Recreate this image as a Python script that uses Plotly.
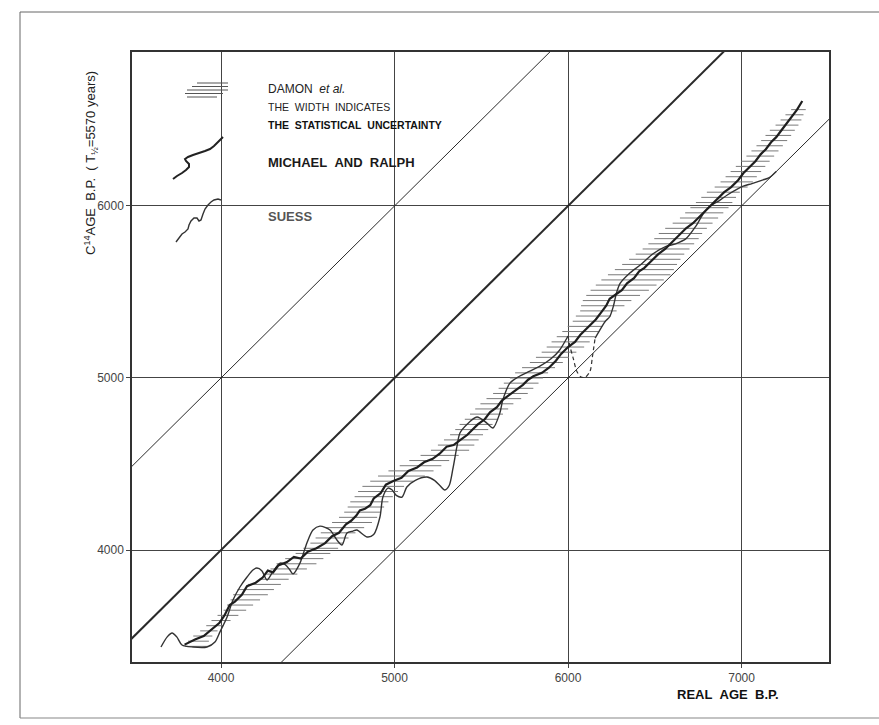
import plotly.graph_objects as go

# ---------------- data ----------------
x_ticks = [4000, 5000, 6000, 7000]
y_ticks = [4000, 5000, 6000]
x_range = [3487, 7504]
y_range = [3349, 6895]

# reference lines  C14 = real + offset
diag_offsets = [-1000, 0, 1000]
diag_widths = [1.0, 2.0, 1.0]

# Damon et al. : C14 age, centre of real-age interval, half width (statistical uncertainty)
damon_c14 = [3440, 3470, 3500, 3530, 3560, 3590, 3620, 3650, 3680, 3710,
             3740, 3770, 3800, 3830, 3860, 3890, 3920, 3950, 3980, 4010,
             4040, 4070, 4100, 4130, 4160, 4190, 4220, 4250, 4280, 4310,
             4340, 4370, 4400, 4430, 4460, 4490, 4520, 4550, 4580, 4610,
             4640, 4670, 4700, 4730, 4760, 4790, 4820, 4850, 4880, 4910,
             4940, 4970, 5000, 5030, 5060, 5090, 5120, 5150, 5180, 5210,
             5240, 5270, 5300, 5330, 5360, 5390, 5420, 5450, 5480, 5510,
             5540, 5570, 5600, 5630, 5660, 5690, 5720, 5750, 5780, 5810,
             5840, 5870, 5900, 5930, 5960, 5990, 6020, 6050, 6080, 6110,
             6140, 6170, 6200, 6230, 6260, 6290, 6320, 6350, 6380, 6410,
             6440, 6470, 6500, 6530, 6560]
damon_real = [3860, 3870, 3895, 3930, 3965, 4000, 4040, 4080, 4110, 4140,
              4170, 4200, 4250, 4305, 4350, 4390, 4435, 4480, 4530, 4575,
              4610, 4640, 4675, 4715, 4755, 4790, 4815, 4835, 4855, 4880,
              4905, 4935, 4985, 5040, 5095, 5150, 5200, 5260, 5320, 5355,
              5385, 5415, 5445, 5470, 5500, 5530, 5560, 5590, 5630, 5668,
              5700, 5730, 5760, 5790, 5830, 5875, 5910, 5948, 5985, 6015,
              6045, 6072, 6098, 6122, 6145, 6175, 6200, 6225, 6260, 6298,
              6335, 6372, 6410, 6440, 6470, 6500, 6530, 6565, 6595, 6625,
              6648, 6680, 6718, 6755, 6785, 6815, 6842, 6868, 6895, 6940,
              6972, 6998, 7025, 7052, 7080, 7108, 7135, 7162, 7188, 7212,
              7235, 7262, 7285, 7305, 7328]
damon_halfwidth = [65, 60, 55, 50, 50, 55, 60, 65, 75, 85,
                   100, 105, 95, 85, 90, 105, 115, 110, 100, 100,
                   95, 95, 100, 110, 115, 110, 105, 105, 110, 110,
                   115, 120, 125, 135, 130, 120, 115, 110, 110, 105,
                   100, 95, 95, 95, 95, 95, 95, 95, 100, 100,
                   100, 100, 95, 95, 95, 95, 95, 100, 108, 110,
                   110, 105, 100, 95, 100, 105, 125, 140, 155, 168,
                   175, 180, 180, 170, 158, 148, 140, 135, 132, 128,
                   125, 120, 115, 110, 110, 110, 105, 100, 95, 95,
                   93, 90, 88, 85, 82, 80, 78, 76, 75, 74,
                   72, 66, 60, 52, 42]

# Michael and Ralph curve
mr_real = [3790, 3850, 3900, 3950, 3990, 4020, 4050, 4080, 4120, 4150,
           4200, 4240, 4270, 4300, 4330, 4380, 4420, 4460, 4500, 4550,
           4600, 4640, 4680, 4720, 4750, 4780, 4800, 4830, 4860, 4880,
           4920, 4950, 4990, 5040, 5080, 5130, 5170, 5220, 5260, 5300,
           5340, 5380, 5420, 5450, 5480, 5520, 5550, 5590, 5620, 5660,
           5700, 5740, 5770, 5800, 5850, 5890, 5930, 5960, 6000, 6040,
           6070, 6100, 6130, 6160, 6190, 6220, 6240, 6270, 6310, 6340,
           6380, 6410, 6440, 6480, 6520, 6560, 6600, 6640, 6680, 6720,
           6760, 6800, 6840, 6870, 6900, 6940, 6980, 7010, 7040, 7080,
           7110, 7140, 7170, 7200, 7230, 7260, 7290, 7320, 7350]
mr_c14 = [3450, 3480, 3500, 3540, 3575, 3620, 3680, 3700, 3740, 3790,
          3810, 3840, 3880, 3870, 3910, 3930, 3960, 3950, 3990, 4010,
          4040, 4080, 4100, 4150, 4170, 4200, 4230, 4240, 4260, 4300,
          4330, 4380, 4400, 4420, 4460, 4480, 4510, 4530, 4560, 4600,
          4610, 4640, 4670, 4700, 4730, 4760, 4800, 4830, 4870, 4900,
          4930, 4960, 4990, 5010, 5030, 5060, 5100, 5140, 5180, 5210,
          5250, 5280, 5310, 5340, 5380, 5420, 5460, 5480, 5510, 5550,
          5580, 5620, 5640, 5680, 5720, 5750, 5790, 5830, 5870, 5900,
          5940, 5980, 6020, 6050, 6080, 6110, 6150, 6190, 6220, 6260,
          6300, 6330, 6370, 6400, 6440, 6480, 6520, 6560, 6610]

# Suess curve (None = break where the curve is dashed)
suess_real = [3654, 3690, 3718, 3745, 3775, 3839, 3919, 3965, 3994, 4035,
              4069, 4109, 4150, 4184, 4207, 4235, 4265, 4294, 4340, 4370,
              4397, 4415, 4455, 4495, 4530, 4570, 4628, 4668, 4697, 4726,
              4760, 4783, 4841, 4880, 4916, 4933, 4962, 4985, 5010, 5043,
              5071, 5120, 5187, 5230, 5261, 5290, 5315, 5336, 5359, 5377,
              5417, 5475, 5532, 5567, 5607, 5624, 5665, 5720, 5780, 5840,
              5900, 5950, 6000, None,
              6156, 6190, 6215, 6240, 6262, 6278, 6300, 6350, 6420, 6490,
              6565, 6620, 6680, 6735, 6780, 6820, 6870, 6920, 6970, 7010,
              7060, 7120, 7160, 7200]
suess_c14 = [3436, 3495, 3518, 3495, 3448, 3436, 3436, 3465, 3524, 3611,
             3709, 3785, 3843, 3884, 3895, 3880, 3826, 3866, 3924, 3915,
             3884, 3861, 3924, 4041, 4116, 4139, 4116, 4058, 4029, 4099,
             4110, 4116, 4076, 4090, 4192, 4308, 4360, 4350, 4318, 4308,
             4366, 4405, 4424, 4405, 4375, 4349, 4375, 4470, 4598, 4680,
             4730, 4773, 4738, 4709, 4796, 4872, 4970, 5010, 5040, 5070,
             5110, 5160, 5244, None,
             5232, 5290, 5330, 5356, 5420, 5490, 5550, 5605, 5660, 5722,
             5765, 5780, 5810, 5880, 5955, 6000, 6030, 6065, 6095, 6115,
             6130, 6150, 6165, 6200]
suess_dash_real = [6000, 6012, 6030, 6050, 6075, 6100, 6127, 6140, 6156]
suess_dash_c14 = [5244, 5180, 5114, 5040, 5005, 5005, 5040, 5120, 5232]

# ---------------- figure ----------------
W, H = 879, 725
ML, MR, MT, MB = 132, 50, 52, 63
PW, PH = W - ML - MR, H - MT - MB


def px(xp):
    return (xp - ML) / PW


def py(yp):
    return (H - MB - yp) / PH


INK = "#2a2a2a"
fig = go.Figure()

# Damon hatch
hx, hy = [], []
for c, m, w in zip(damon_c14, damon_real, damon_halfwidth):
    hx += [m - w, m + w, None]
    hy += [c, c, None]
fig.add_trace(go.Scatter(x=hx, y=hy, mode="lines",
                         line=dict(color="#7a7a7a", width=1), hoverinfo="skip"))

# reference diagonals
for off, lw in zip(diag_offsets, diag_widths):
    fig.add_trace(go.Scatter(x=[x_range[0] - 500, x_range[1] + 500],
                             y=[x_range[0] - 500 + off, x_range[1] + 500 + off],
                             mode="lines", line=dict(color=INK, width=lw),
                             hoverinfo="skip"))

# Suess
fig.add_trace(go.Scatter(x=suess_real, y=suess_c14, mode="lines",
                         line=dict(color="#333333", width=1.4, shape="spline",
                                   smoothing=0.8),
                         connectgaps=False, hoverinfo="skip"))
fig.add_trace(go.Scatter(x=suess_dash_real, y=suess_dash_c14, mode="lines",
                         line=dict(color="#333333", width=1.2, dash="4px,3px",
                                   shape="spline", smoothing=0.8),
                         hoverinfo="skip"))
# Michael and Ralph
fig.add_trace(go.Scatter(x=mr_real, y=mr_c14, mode="lines",
                         line=dict(color="#1e1e1e", width=2.2), hoverinfo="skip"))

shapes = []
# page frame of the scanned figure
shapes.append(dict(type="line", xref="paper", yref="paper", x0=px(20), y0=py(12),
                   x1=px(879), y1=py(12), line=dict(color="#666", width=1)))
shapes.append(dict(type="line", xref="paper", yref="paper", x0=px(20), y0=py(12),
                   x1=px(20), y1=py(718), line=dict(color="#666", width=1)))
shapes.append(dict(type="line", xref="paper", yref="paper", x0=px(20), y0=py(718),
                   x1=px(879), y1=py(718), line=dict(color="#888", width=1.2)))

# legend glyphs
for (xa, xb, yy) in [(197, 228, 83), (192, 228, 86.5), (187, 228, 90),
                     (185, 223, 93.5), (187, 217, 97)]:
    shapes.append(dict(type="line", xref="paper", yref="paper", x0=px(xa), y0=py(yy),
                       x1=px(xb), y1=py(yy), line=dict(color="#555", width=1)))


def path_from(pts):
    s = "M %f,%f" % (px(pts[0][0]), py(pts[0][1]))
    for a, b in pts[1:]:
        s += " L %f,%f" % (px(a), py(b))
    return s


mr_glyph = [(173, 179), (177, 176), (182, 173), (186, 170), (189, 167), (189, 164),
            (186, 161), (185, 159), (188, 157), (193, 155), (199, 153), (205, 151),
            (210, 149), (214, 146), (218, 142), (223, 137)]
su_glyph = [(176, 242), (179, 238), (182, 234), (185, 232), (188, 229), (189, 225),
            (191, 221), (194, 218), (197, 218), (199, 221), (201, 220), (203, 214),
            (205, 209), (208, 205), (211, 202), (214, 200), (218, 199), (221, 200)]
shapes.append(dict(type="path", xref="paper", yref="paper", path=path_from(mr_glyph),
                   line=dict(color="#222", width=2)))
shapes.append(dict(type="path", xref="paper", yref="paper", path=path_from(su_glyph),
                   line=dict(color="#333", width=1.4)))

FONT = "Liberation Sans, Arial, sans-serif"
NB = "\u00a0"
ann = []


def txt(t, xp, yp, size, bold=False, color="#222", anchor="left"):
    t = t.replace(" ", NB)
    ann.append(dict(text=("<b>%s</b>" % t) if bold else t, xref="paper", yref="paper",
                    x=px(xp), y=py(yp), xanchor=anchor, yanchor="middle",
                    showarrow=False, font=dict(family=FONT, size=size, color=color)))


txt("DAMON  <i>et al.</i>", 266, 89, 12, False, "#222")
txt("THE  WIDTH  INDICATES", 266, 107, 10.5, False, "#222")
txt("THE  STATISTICAL  UNCERTAINTY", 266, 125, 10.5, True, "#111")
txt("MICHAEL  AND  RALPH", 266, 163, 13, True, "#1a1a1a")
txt("SUESS", 266, 216, 13, True, "#555")
txt("REAL  AGE  B.P.", 728, 694, 13, True, "#111", "center")
ann.append(dict(text="C<sup>14</sup>AGE" + NB + NB + "B.P." + NB + NB + "(" + NB
                + "T<sub>½</sub>=5570" + NB + "years)",
                xref="paper", yref="paper", x=px(91), y=py(163), textangle=-90,
                xanchor="center", yanchor="middle", showarrow=False,
                font=dict(family=FONT, size=13, color="#222")))

axis_common = dict(showgrid=True, gridcolor="#444", gridwidth=1, zeroline=False,
                   showline=True, linecolor="#333", linewidth=1.5, mirror=True,
                   ticks="outside", ticklen=4, tickcolor="#444",
                   tickfont=dict(family=FONT, size=12, color="#444"))

fig.update_layout(
    width=W, height=H, margin=dict(l=ML, r=MR, t=MT, b=MB, pad=0),
    paper_bgcolor="white", plot_bgcolor="white", showlegend=False,
    xaxis=dict(range=x_range, tickvals=x_ticks, ticktext=[str(v) for v in x_ticks],
               **axis_common),
    yaxis=dict(range=y_range, tickvals=y_ticks, ticktext=[str(v) for v in y_ticks],
               **axis_common),
    shapes=shapes, annotations=ann,
)

fig.write_html("out.html")
